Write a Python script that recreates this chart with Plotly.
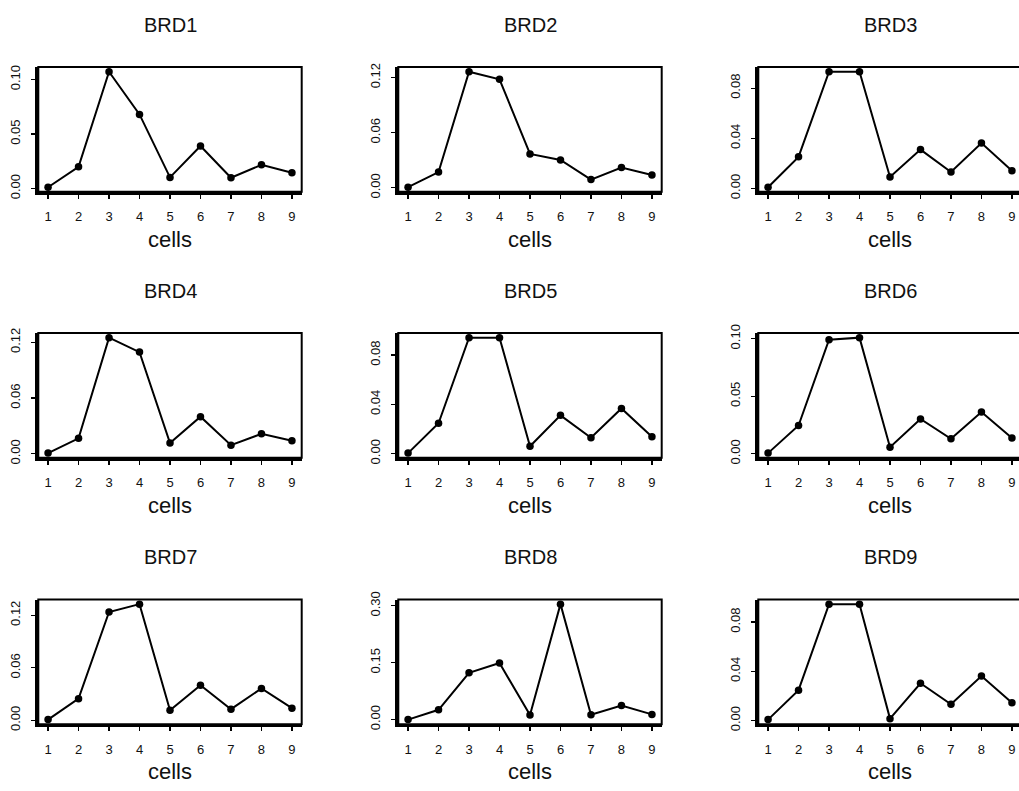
import plotly.graph_objects as go

cells = [1, 2, 3, 4, 5, 6, 7, 8, 9]

brd1 = [0.0012, 0.0199, 0.1072, 0.0680, 0.0102, 0.0390, 0.0099, 0.0217, 0.0145]
brd2 = [0.0007, 0.0172, 0.1264, 0.1182, 0.0369, 0.0304, 0.0090, 0.0222, 0.0140]
brd3 = [0.0010, 0.0252, 0.0931, 0.0931, 0.0092, 0.0310, 0.0131, 0.0362, 0.0142]
brd4 = [0.0007, 0.0166, 0.1250, 0.1094, 0.0116, 0.0399, 0.0092, 0.0215, 0.0141]
brd5 = [0.0005, 0.0247, 0.0941, 0.0941, 0.0061, 0.0311, 0.0130, 0.0367, 0.0138]
brd6 = [0.0006, 0.0246, 0.0991, 0.1009, 0.0057, 0.0303, 0.0131, 0.0363, 0.0137]
brd7 = [0.0008, 0.0247, 0.1237, 0.1327, 0.0116, 0.0401, 0.0127, 0.0364, 0.0139]
brd8 = [0.0000, 0.0259, 0.1233, 0.1490, 0.0120, 0.3043, 0.0129, 0.0371, 0.0138]
brd9 = [0.0008, 0.0247, 0.0946, 0.0946, 0.0016, 0.0303, 0.0133, 0.0362, 0.0144]

titles = ["BRD1", "BRD2", "BRD3", "BRD4", "BRD5", "BRD6", "BRD7", "BRD8", "BRD9"]
series = [brd1, brd2, brd3, brd4, brd5, brd6, brd7, brd8, brd9]
yticks = [
    [0.00, 0.05, 0.10],
    [0.00, 0.06, 0.12],
    [0.00, 0.04, 0.08],
    [0.00, 0.06, 0.12],
    [0.00, 0.04, 0.08],
    [0.00, 0.05, 0.10],
    [0.00, 0.06, 0.12],
    [0.00, 0.15, 0.30],
    [0.00, 0.04, 0.08],
]
xlabel = "cells"

W, H = 1019, 791
col_left = [38.3, 398.3, 758.3]
row_top = [59.3, 330.7, 602.7]
pw, ph = 263.4, 127.3
FONT = "Liberation Sans, Arial, Helvetica, sans-serif"

fig = go.Figure()
layout = dict(
    width=W, height=H,
    margin=dict(l=0, r=0, t=0, b=0),
    paper_bgcolor="white", plot_bgcolor="white",
    showlegend=False,
    font=dict(family=FONT, color="black"),
)
annotations = []
shapes = []

for i, (title, vals, yt) in enumerate(zip(titles, series, yticks)):
    n = i + 1
    r, c = divmod(i, 3)
    left = col_left[c]
    top = row_top[r]
    right = min(left + pw, W)
    xr = [0.68, 0.68 + 8.64 * (right - left) / pw]
    lo, hi = min(vals), max(vals)
    pad = 0.04 * (hi - lo)
    yr = [lo - pad, hi + pad]

    fig.add_trace(go.Scatter(
        x=cells, y=vals, mode="lines+markers",
        line=dict(color="black", width=2),
        marker=dict(color="black", size=7.5),
        xaxis=f"x{n}", yaxis=f"y{n}", cliponaxis=False, hoverinfo="skip",
    ))

    xd = [left / W, right / W]
    yd = [1 - (top + ph) / H, 1 - top / H]
    sfx = "" if n == 1 else str(n)
    layout[f"xaxis{sfx}"] = dict(
        domain=xd, range=xr, anchor=f"y{n}",
        tickvals=cells, ticktext=[str(v) for v in cells],
        ticks="outside", ticklen=4, tickwidth=1.2, tickcolor="black",
        showgrid=False, zeroline=False,
        showline=True, linecolor="black", linewidth=3,
        tickfont=dict(size=13, family=FONT, color="#111"),
        ticklabelstandoff=7, fixedrange=True,
    )
    layout[f"yaxis{sfx}"] = dict(
        domain=yd, range=yr, anchor=f"x{n}",
        tickvals=yt, ticktext=[f"{v:.2f}" for v in yt],
        tickangle=-90,
        ticks="outside", ticklen=4, tickwidth=1.2, tickcolor="black",
        showgrid=False, zeroline=False,
        showline=True, linecolor="black", linewidth=3,
        tickfont=dict(size=13, family=FONT, color="#111"),
        ticklabelstandoff=6, fixedrange=True,
    )
    shapes.append(dict(
        type="rect", xref="paper", yref="paper",
        x0=left / W, x1=(left + pw) / W, y0=yd[0], y1=yd[1],
        line=dict(color="black", width=2), fillcolor="rgba(0,0,0,0)",
        layer="above",
    ))
    annotations.append(dict(
        text=title, xref="paper", yref="paper",
        x=(left + pw / 2) / W, y=1 - (top - 43) / H,
        xanchor="center", yanchor="middle", showarrow=False,
        font=dict(size=20, family=FONT, color="#111"),
    ))
    annotations.append(dict(
        text=xlabel, xref="paper", yref="paper",
        x=(left + pw / 2) / W, y=1 - (top + ph + 48.5) / H,
        xanchor="center", yanchor="middle", showarrow=False,
        font=dict(size=22, family=FONT, color="#111"),
    ))

layout["annotations"] = annotations
layout["shapes"] = shapes
fig.update_layout(**layout)
fig.write_html(
    "out.html",
    config={"displayModeBar": False, "staticPlot": True},
    post_script="document.body.style.margin='0';document.body.style.overflow='hidden';",
)
